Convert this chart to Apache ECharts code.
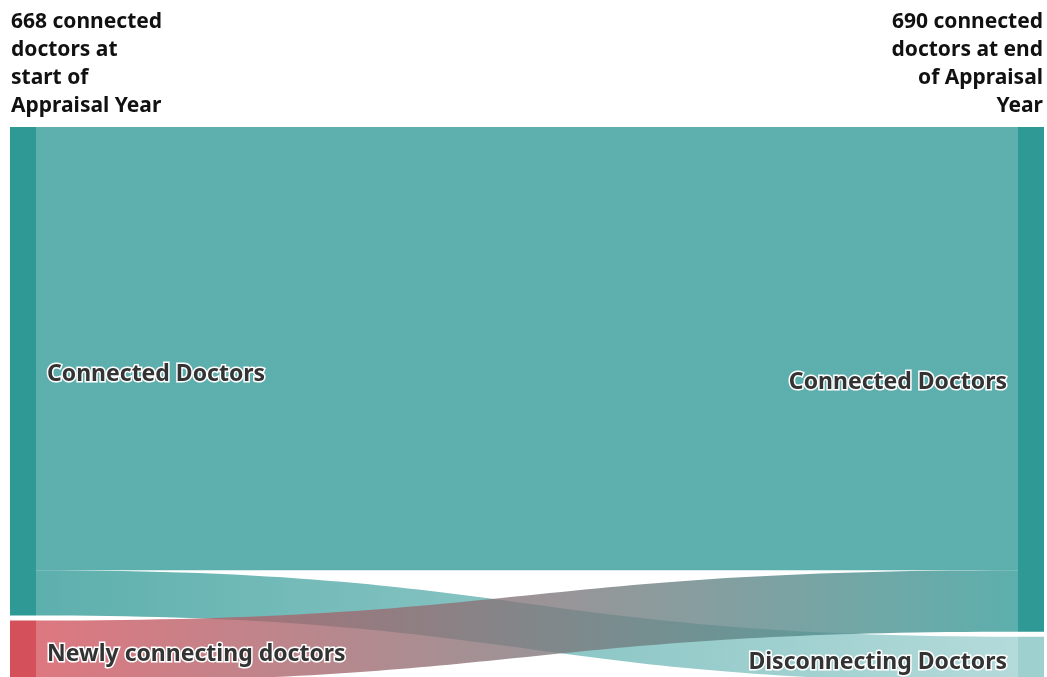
<!DOCTYPE html>
<html>
<head>
<meta charset="utf-8">
<script src="https://cdn.jsdelivr.net/npm/echarts@6/dist/echarts.min.js"></script>
<style>
  html, body { margin: 0; padding: 0; background: #fff; }
  #chart { width: 1047px; height: 677px; }
</style>
</head>
<body>
<div id="chart"></div>
<script>
// nodes: id, shown label, colour
const nodeIds = ['start_connected', 'newly', 'end_connected', 'disconnecting']
const nodeLabels = ['Connected Doctors', 'Newly connecting doctors', 'Connected Doctors', 'Disconnecting Doctors']
const nodeColors = ['#2f9996', '#d4515c', '#2f9996', '#9fd0d0']

// flows
const linkSources = ['start_connected', 'start_connected', 'newly']
const linkTargets = ['end_connected', 'disconnecting', 'end_connected']
const linkValues = [606, 62, 84]

const startTitle = ['668 connected', 'doctors at', 'start of', 'Appraisal Year']
const endTitle = ['690 connected', 'doctors at end', 'of Appraisal', 'Year']

const chart = echarts.init(document.getElementById('chart'))

const nodes = nodeIds.map((id, i) => ({
  name: id,
  itemStyle: { color: nodeColors[i], borderWidth: 0 },
  label: { position: i < 2 ? 'right' : 'left' }
}))
const links = linkSources.map((s, i) => ({ source: s, target: linkTargets[i], value: linkValues[i] }))

const labelMap = {}
nodeIds.forEach((id, i) => { labelMap[id] = nodeLabels[i] })

// header lines, one text element per line
const titleFont = 'bold 21px "Noto Sans"'
const header = []
startTitle.forEach((t, i) => {
  header.push({
    type: 'text', x: 11, y: 12 + i * 28,
    style: { text: t, font: titleFont, fill: '#111', textAlign: 'left', textVerticalAlign: 'top' }
  })
})
endTitle.forEach((t, i) => {
  header.push({
    type: 'text', x: 1043, y: 12 + i * 28,
    style: { text: t, font: titleFont, fill: '#111', textAlign: 'right', textVerticalAlign: 'top' }
  })
})

chart.setOption({
  animation: false,
  textStyle: { fontFamily: 'Noto Sans' },
  graphic: header,
  series: [{
    type: 'sankey',
    left: 10,
    right: 3,
    top: 127,
    height: 555,
    nodeWidth: 26,
    nodeGap: 5,
    layoutIterations: 0,
    draggable: false,
    emphasis: { disabled: true },
    data: nodes,
    links: links,
    label: {
      formatter: p => labelMap[p.name],
      fontFamily: 'Noto Sans',
      fontSize: 23,
      fontWeight: 'bold',
      color: '#333',
      textBorderColor: '#fff',
      textBorderWidth: 3,
      distance: 11,
      offset: [0, 3]
    },
    lineStyle: {
      color: 'gradient',
      opacity: 0.78,
      curveness: 0.5
    }
  }]
})
</script>
</body>
</html>
